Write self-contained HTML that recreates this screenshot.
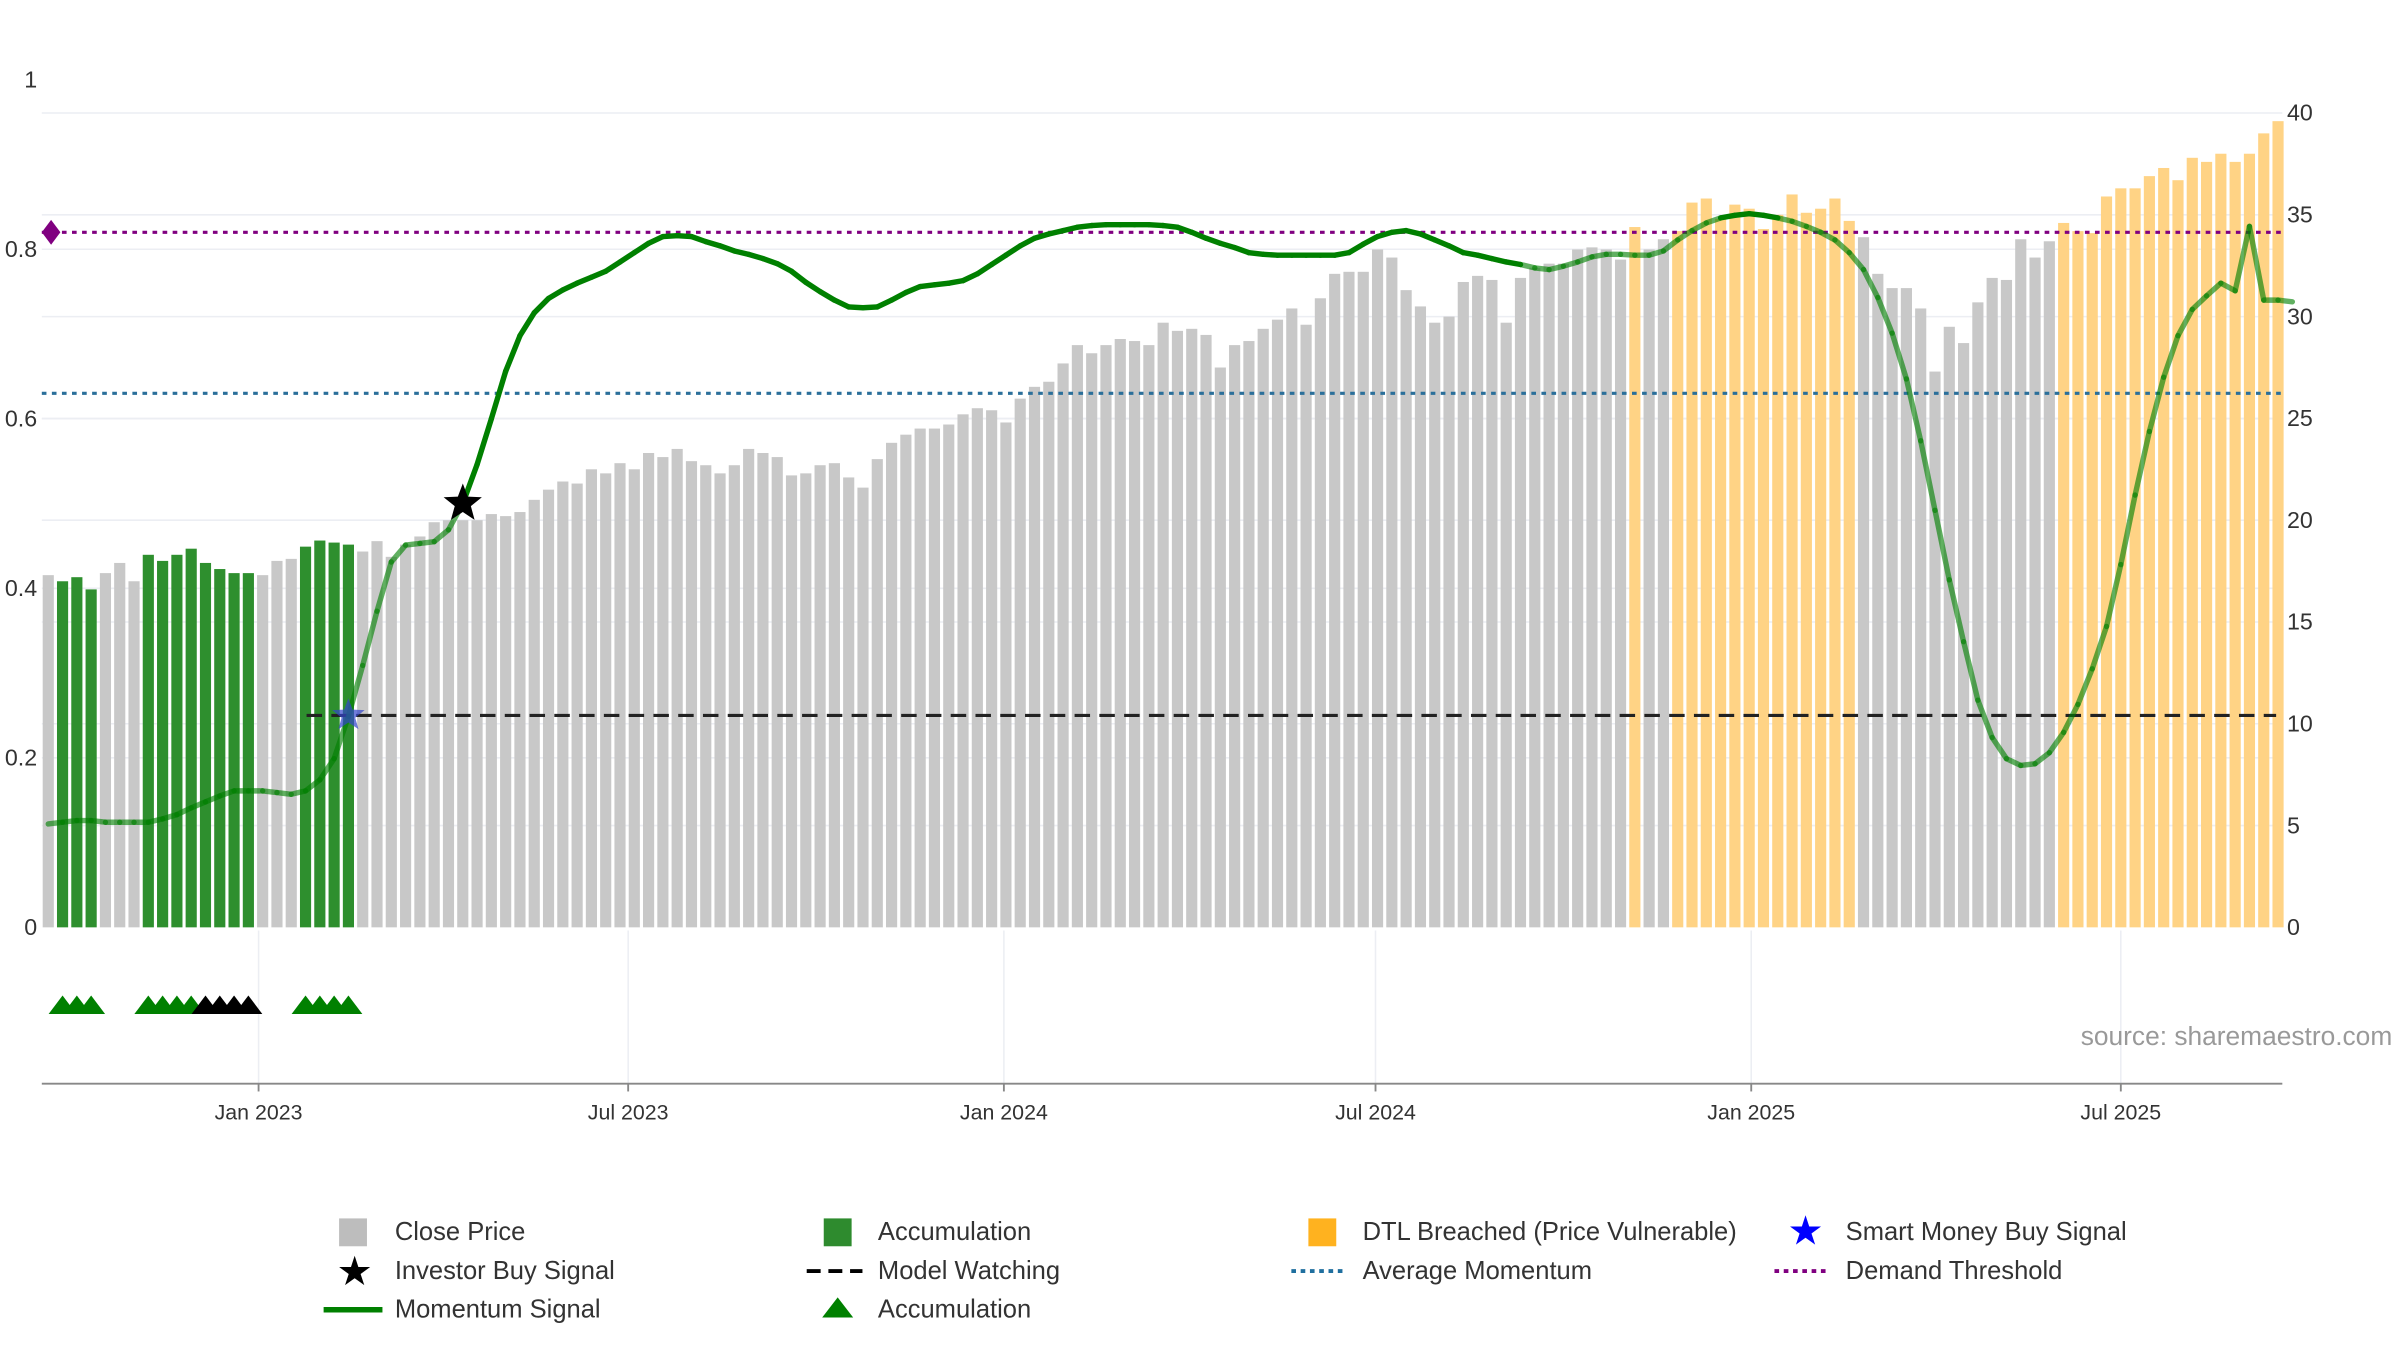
<!DOCTYPE html>
<html>
<head>
<meta charset="utf-8">
<style>
html,body{margin:0;padding:0;background:#fff;}
svg{display:block;font-family:"Liberation Sans",sans-serif;}
</style>
</head>
<body>
<svg id="chart" xmlns="http://www.w3.org/2000/svg" width="2400" height="1350" viewBox="0 0 1550 872" preserveAspectRatio="none">
  <g id="grid"></g>
  <g id="bars"></g>
  <g id="lines"></g>
  <g id="momentum"></g>
  <g id="markers"></g>
  <g id="axes"></g>
  <text x="1545" y="675" text-anchor="end" font-size="17" fill="#999">source: sharemaestro.com</text>
  <g id="legend">
    <rect x="219" y="787" width="18" height="18" fill="#bdbdbd"/>
    <text x="255" y="801" font-size="16.5" fill="#333">Close Price</text>
    <rect x="532" y="787" width="18" height="18" fill="#2e8b2e"/>
    <text x="567" y="801" font-size="16.5" fill="#333">Accumulation</text>
    <rect x="845" y="787" width="18" height="18" fill="#ffb21f"/>
    <text x="880" y="801" font-size="16.5" fill="#333">DTL Breached (Price Vulnerable)</text>
    <text x="1166" y="804" font-size="26" fill="#0000ff" text-anchor="middle">★</text>
    <text x="1192" y="801" font-size="16.5" fill="#333">Smart Money Buy Signal</text>
    <text x="229" y="830" font-size="26" fill="#000" text-anchor="middle">★</text>
    <text x="255" y="826" font-size="16.5" fill="#333">Investor Buy Signal</text>
    <line x1="521" y1="821" x2="557" y2="821" stroke="#000" stroke-width="2.5" stroke-dasharray="9,5"/>
    <text x="567" y="826" font-size="16.5" fill="#333">Model Watching</text>
    <line x1="834" y1="821" x2="870" y2="821" stroke="#1f6f9f" stroke-width="2.5" stroke-dasharray="3,3"/>
    <text x="880" y="826" font-size="16.5" fill="#333">Average Momentum</text>
    <line x1="1146" y1="821" x2="1182" y2="821" stroke="#800080" stroke-width="2.5" stroke-dasharray="3,3"/>
    <text x="1192" y="826" font-size="16.5" fill="#333">Demand Threshold</text>
    <line x1="209" y1="846" x2="247" y2="846" stroke="#008000" stroke-width="3.5"/>
    <text x="255" y="851" font-size="16.5" fill="#333">Momentum Signal</text>
    <polygon points="531,851 541,838 551,851" fill="#008000"/>
    <text x="567" y="851" font-size="16.5" fill="#333">Accumulation</text>
  </g>
</svg>
<script>
const startDate = "2022-09-20";
const prices = [17.3,17.0,17.2,16.6,17.4,17.9,17.0,18.3,18.0,18.3,18.6,17.9,17.6,17.4,17.4,17.3,18.0,18.1,18.7,19.0,18.9,18.8,
18.46,18.97,18.2,18.8,19.2,19.9,20.0,20.0,20.0,20.3,20.2,20.4,21.0,21.5,21.9,21.8,22.5,22.3,22.8,22.5,23.3,23.1,23.5,22.9,22.7,22.3,22.7,23.5,23.3,23.1,22.2,22.3,22.7,22.8,22.1,21.6,23.0,23.8,24.2,24.5,24.5,24.7,25.2,25.5,25.4,24.8,
25.97,26.55,26.8,27.7,28.6,28.2,28.6,28.9,28.8,28.6,29.7,29.3,29.4,29.1,27.5,28.6,28.8,29.4,29.85,30.4,29.6,30.9,32.1,32.2,32.2,33.3,32.9,31.3,30.5,29.7,30.0,31.7,32.0,31.8,29.7,31.9,32.4,32.6,32.6,33.3,33.4,33.3,32.8,
34.4,33.3,33.8,34.2,35.6,35.8,34.8,35.5,35.3,34.3,35.0,36.0,35.1,35.3,35.8,34.7,
33.9,32.1,31.4,31.4,30.4,27.3,29.5,28.7,30.7,31.9,31.8,33.8,32.9,33.7,
34.6,34.2,34.1,35.9,36.3,36.3,36.9,37.3,36.7,37.8,37.6,38.0,37.6,38.0,39.0,39.6];
const momentum = [0.122,0.124,0.126,0.126,0.124,0.124,0.124,0.124,0.128,0.133,0.141,0.148,0.155,0.161,0.161,0.161,0.159,0.157,0.161,0.174,0.199,0.249,0.309,0.373,0.431,0.451,0.453,0.455,0.469,0.5,0.546,0.6,0.656,0.698,0.725,0.742,0.752,0.760,0.767,0.774,0.785,0.796,0.807,0.815,0.816,0.815,0.809,0.804,0.798,0.794,0.789,0.783,0.774,0.761,0.750,0.740,0.732,0.731,0.732,0.740,0.749,0.756,0.758,0.760,0.763,0.771,0.782,0.793,0.804,0.813,0.818,0.822,0.826,0.828,0.829,0.829,0.829,0.829,0.828,0.826,0.820,0.813,0.807,0.802,0.796,0.794,0.793,0.793,0.793,0.793,0.793,0.796,0.806,0.815,0.820,0.822,0.818,0.811,0.804,0.796,0.793,0.789,0.785,0.782,0.778,0.776,0.780,0.785,0.791,0.794,0.794,0.793,0.793,0.798,0.811,0.822,0.831,0.837,0.840,0.842,0.840,0.837,0.833,0.827,0.820,0.811,0.796,0.776,0.743,0.701,0.647,0.574,0.492,0.410,0.337,0.268,0.224,0.199,0.191,0.193,0.206,0.230,0.263,0.305,0.355,0.428,0.510,0.585,0.649,0.698,0.729,0.745,0.760,0.751,0.827,0.740,0.740,0.738];
const accumulationIdx = [1,2,3,7,8,9,10,11,12,13,14,18,19,20,21];
const dtlIdx = [111,114,115,116,117,118,119,120,121,122,123,124,125,126,141,142,143,144,145,146,147,148,149,150,151,152,153,154,155,156];
const accTriangleIdx = [1,2,3,7,8,9,10,18,19,20,21];
const blackTriangleIdx = [11,12,13,14];
const investorBuyIdx = [29];
const smartMoneyIdx = [21];
const demandThreshold = 0.82;
const avgMomentum = 0.63;
const modelWatching = 0.25;
const leftTicks = [0,0.2,0.4,0.6,0.8,1];
const leftTickLabels = ["0","0.2","0.4","0.6","0.8","1"];
const rightTicks = [0,5,10,15,20,25,30,35,40];
const xTickDates = ["2023-01-01","2023-07-01","2024-01-01","2024-07-01","2025-01-01","2025-07-01"];
const xTickLabels = ["Jan 2023","Jul 2023","Jan 2024","Jul 2024","Jan 2025","Jul 2025"];

const NS = "http://www.w3.org/2000/svg";
const X0 = 27, X1 = 1474, Y0 = 599;
const ref = Date.parse("2023-01-01");
function xScale(ms){ return 167 + (ms - ref) / 86400000 * (964/731); }
function dateOf(i){ return Date.parse(startDate) + i*7*86400000; }
function yLeft(v){ return Y0 - v*547.5; }
function yRight(v){ return Y0 - v*13.15; }
function mk(tag, attrs, parent){ const e=document.createElementNS(NS,tag); for(const k in attrs) e.setAttribute(k,attrs[k]); parent.appendChild(e); return e; }

const grid = document.getElementById('grid');
rightTicks.forEach(t=>{ if(t>0){ const l=mk('line',{x1:X0,x2:X1,y1:yRight(t),y2:yRight(t),stroke:'#eceef3','stroke-width':1},grid);

 }});
leftTicks.forEach(t=>{ if(t>0 && t<1){ const l=mk('line',{x1:X0,x2:X1,y1:yLeft(t),y2:yLeft(t),stroke:'#eceef3','stroke-width':1},grid);

 }});
xTickDates.forEach(d=>{ const x=xScale(Date.parse(d)); const l=mk('line',{x1:x,x2:x,y1:601,y2:700,stroke:'#eceef3','stroke-width':1},grid);

 });

const bars = document.getElementById('bars');
prices.forEach((p,i)=>{
  const x = xScale(dateOf(i));
  let fill = '#c8c8c8';
  if (accumulationIdx.includes(i)) fill = '#2e8f2e';
  if (dtlIdx.includes(i)) fill = '#ffd385';
  const r = mk('rect',{x:x-3.6,y:yRight(p),width:7.2,height:Y0-yRight(p),fill:fill},bars);
  
  
});

const lines = document.getElementById('lines');
let l1 = mk('line',{x1:X0,x2:X1,y1:yLeft(demandThreshold),y2:yLeft(demandThreshold),stroke:'#800080','stroke-width':2,'stroke-dasharray':'3,3.5'},lines);


let l2 = mk('line',{x1:X0,x2:X1,y1:yLeft(avgMomentum),y2:yLeft(avgMomentum),stroke:'#2a6f9a','stroke-width':2,'stroke-dasharray':'3,3.5'},lines);


let l3 = mk('line',{x1:198,x2:1470,y1:yLeft(modelWatching),y2:yLeft(modelWatching),stroke:'#222','stroke-width':2,'stroke-dasharray':'10,6'},lines);


const dy = yLeft(demandThreshold);
let dm = mk('polygon',{points:`${X0},${dy} ${X0+6},${dy-8} ${X0+12},${dy} ${X0+6},${dy+8}`,fill:'#800080'},lines);



const mg = document.getElementById('momentum');
const opaqueRanges = [[29,103],[117,121]];
function isOpaque(i){ return opaqueRanges.some(r=>i>=r[0]&&i<r[1]); }
for(let i=0;i<momentum.length-1;i++){
  const seg = mk('line',{x1:xScale(dateOf(i)),y1:yLeft(momentum[i]),x2:xScale(dateOf(i+1)),y2:yLeft(momentum[i+1]),stroke:'#008000','stroke-width':3.5,'stroke-linecap':'round','stroke-opacity':isOpaque(i)?1:0.62},mg);
  
  
}

const mkG = document.getElementById('markers');
function star(cx,cy,r,fill){ const pts=[]; for(let k=0;k<10;k++){ const a=-Math.PI/2+k*Math.PI/5; const rr=k%2?r*0.42:r; pts.push((cx+rr*Math.cos(a)).toFixed(1)+','+(cy+rr*Math.sin(a)).toFixed(1)); } return mk('polygon',{points:pts.join(' '),fill:fill},mkG); }
investorBuyIdx.forEach(i=>{ const s=star(xScale(dateOf(i)),yLeft(momentum[i]),13,'#000');

 });
smartMoneyIdx.forEach(i=>{ const s=star(xScale(dateOf(i)),yLeft(modelWatching),11,'#3344cc'); s.setAttribute('fill-opacity','0.7');

 });
function tri(i,fill){ const x=xScale(dateOf(i)); return mk('polygon',{points:`${x-9},655 ${x},643 ${x+9},655`,fill:fill},mkG); }
accTriangleIdx.forEach(i=>{ const t=tri(i,'#008000');

 });
blackTriangleIdx.forEach(i=>{ const t=tri(i,'#000');

 });

const ax = document.getElementById('axes');
let xl = mk('line',{x1:X0,x2:X1,y1:700,y2:700,stroke:'#888','stroke-width':1.2},ax);


xTickDates.forEach((d,k)=>{ const x=xScale(Date.parse(d));
  const tk=mk('line',{x1:x,x2:x,y1:700,y2:705,stroke:'#888','stroke-width':1.2},ax);
  
  
  const t=mk('text',{x:x,y:723,'text-anchor':'middle','font-size':13.8,fill:'#333'},ax); t.textContent=xTickLabels[k];
  
  
});
leftTicks.forEach((v,k)=>{ const t=mk('text',{x:24,y:yLeft(v)+5,'text-anchor':'end','font-size':15,fill:'#333'},ax); t.textContent=leftTickLabels[k];
  
   });
rightTicks.forEach(v=>{ const t=mk('text',{x:1477,y:yRight(v)+5,'font-size':15,fill:'#333'},ax); t.textContent=String(v);
  
   });
</script>
</body>
</html>
